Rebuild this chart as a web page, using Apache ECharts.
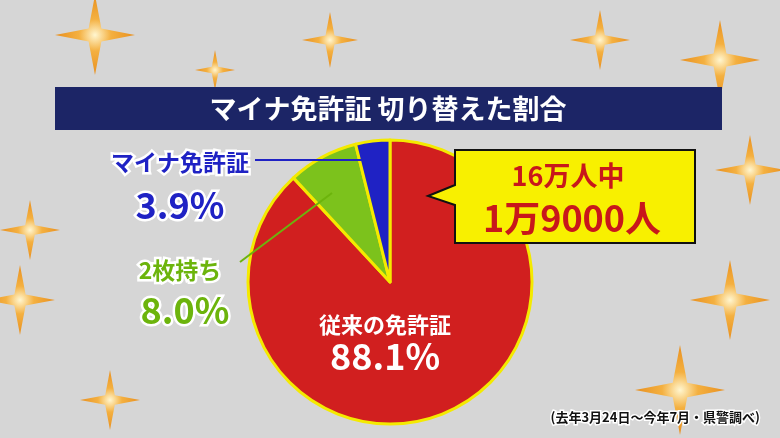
<!DOCTYPE html>
<html><head><meta charset="utf-8">
<script src="https://cdn.jsdelivr.net/npm/echarts@6/dist/echarts.min.js"></script>
<style>html,body{margin:0;padding:0;background:#d4d4d4}#main{width:780px;height:438px}</style>
</head><body><div id="main"></div>
<script>
const categories = ['従来の免許証', '2枚持ち', 'マイナ免許証'];
const values = [88.1, 8.0, 3.9];
const colors = ['#d11f1f', '#7cc21c', '#1f22c4'];
const font = '"Noto Sans CJK JP", sans-serif';

const chart = echarts.init(document.getElementById('main'));

// sparkle star shape
const star = (cx, cy, r) => {
  const w = r * 0.16;
  return {
    type: 'polygon', silent: true, z: 0,
    shape: { points: [[cx, cy - r], [cx + w, cy - w], [cx + r, cy], [cx + w, cy + w], [cx, cy + r], [cx - w, cy + w], [cx - r, cy], [cx - w, cy - w]] },
    style: { fill: new echarts.graphic.RadialGradient(0.5, 0.5, 0.5, [{ offset: 0, color: '#fff6d0' }, { offset: 0.4, color: '#f4b040' }, { offset: 1, color: '#e89020' }]) }
  };
};
const stars = [[95, 35, 40], [330, 40, 28], [600, 40, 30], [720, 60, 40], [750, 170, 35], [30, 230, 30], [20, 300, 35], [730, 300, 40], [680, 390, 45], [110, 400, 30], [215, 70, 20]].map(s => star(...s));

const txt = (x, y, text, size, color, align) => ({
  type: 'text', x, y, z: 10,
  style: { text, fontFamily: font, fontWeight: 'bold', fontSize: size, fill: color, align: align || 'center', verticalAlign: 'middle', stroke: '#fff', lineWidth: 5 }
});

const option = {
  backgroundColor: '#d6d6d6',
  animation: false,
  series: [{
    type: 'pie',
    center: [390, 282],
    radius: 142,
    startAngle: 90,
    clockwise: true,
    label: { show: false },
    labelLine: { show: false },
    itemStyle: { borderColor: '#f4ea00', borderWidth: 3 },
    data: categories.map((c, i) => ({ name: c, value: values[i], itemStyle: { color: colors[i] } })),
    z: 5
  }],
  graphic: [
    ...stars,
    { type: 'rect', z: 8, shape: { x: 55, y: 87, width: 667, height: 43 }, style: { fill: '#1c2566' } },
    { type: 'text', z: 9, x: 388, y: 109, style: { text: 'マイナ免許証 切り替えた割合', fontFamily: font, fontWeight: 'bold', fontSize: 27, fill: '#fff', align: 'center', verticalAlign: 'middle' } },
    txt(180, 162, 'マイナ免許証', 23, '#1f22c4'),
    txt(180, 205, '3.9%', 36, '#1f22c4'),
    { type: 'line', z: 9, shape: { x1: 255, y1: 160, x2: 365, y2: 160 }, style: { stroke: '#1f22c4', lineWidth: 2 } },
    txt(180, 270, '2枚持ち', 23, '#6cb40c'),
    txt(185, 310, '8.0%', 36, '#6cb40c'),
    { type: 'line', z: 9, shape: { x1: 240, y1: 262, x2: 332, y2: 193 }, style: { stroke: '#6cb40c', lineWidth: 2 } },
    { type: 'text', z: 9, x: 385, y: 325, style: { text: '従来の免許証', fontFamily: font, fontWeight: 'bold', fontSize: 22, fill: '#fff', align: 'center', verticalAlign: 'middle' } },
    { type: 'text', z: 9, x: 385, y: 356, style: { text: '88.1%', fontFamily: font, fontWeight: 'bold', fontSize: 36, fill: '#fff', align: 'center', verticalAlign: 'middle' } },
    { type: 'polygon', z: 8, shape: { points: [[455, 150], [695, 150], [695, 243], [455, 243], [455, 205], [428, 196], [455, 185]] }, style: { fill: '#f8f000', stroke: '#111', lineWidth: 2 } },
    { type: 'text', z: 9, x: 568, y: 176, style: { text: '16万人中', fontFamily: font, fontWeight: 'bold', fontSize: 27, fill: '#c8171b', align: 'center', verticalAlign: 'middle' } },
    { type: 'text', z: 9, x: 572, y: 218, style: { text: '1万9000人', fontFamily: font, fontWeight: 'bold', fontSize: 36, fill: '#c8171b', align: 'center', verticalAlign: 'middle' } },
    { type: 'text', z: 9, x: 760, y: 417, style: { text: '(去年3月24日～今年7月・県警調べ)', fontFamily: font, fontWeight: 'bold', fontSize: 13, fill: '#111', align: 'right', verticalAlign: 'middle', stroke: '#fff', lineWidth: 3 } }
  ]
};
chart.setOption(option);
</script></body></html>
